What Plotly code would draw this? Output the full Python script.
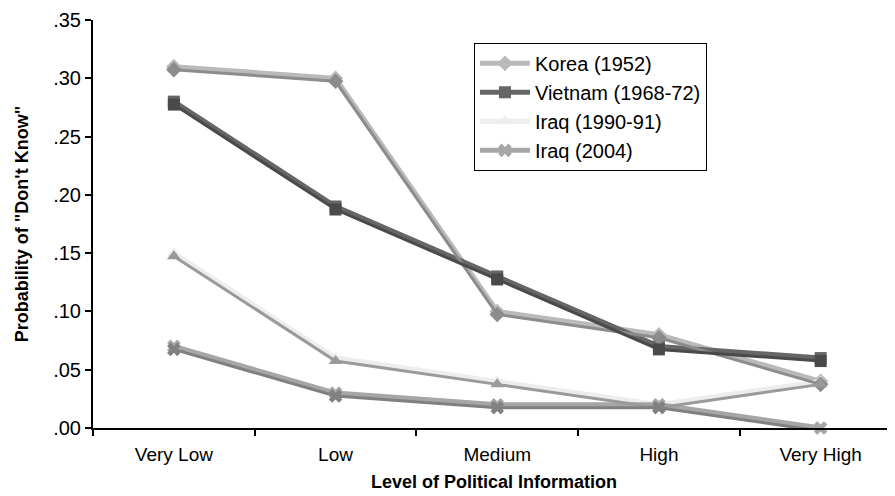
import plotly.graph_objects as go

levels = ["Very Low", "Low", "Medium", "High", "Very High"]
korea_1952 = [0.31, 0.30, 0.10, 0.08, 0.04]
vietnam_1968_72 = [0.28, 0.19, 0.13, 0.07, 0.06]
iraq_1990_91 = [0.15, 0.06, 0.04, 0.02, 0.04]
iraq_2004 = [0.07, 0.03, 0.02, 0.02, 0.00]

y_ticks = [0, 0.05, 0.10, 0.15, 0.20, 0.25, 0.30, 0.35]
y_tick_labels = [".00", ".05", ".10", ".15", ".20", ".25", ".30", ".35"]

series = [
    ("Korea (1952)", korea_1952, "#bababa", "#8c8c8c", "diamond"),
    ("Vietnam (1968-72)", vietnam_1968_72, "#666666", "#4a4a4a", "square"),
    ("Iraq (1990-91)", iraq_1990_91, "#ededed", "#9a9a9a", "triangle-up"),
    ("Iraq (2004)", iraq_2004, "#a6a6a6", "#808080", "x"),
]

fig = go.Figure()

# drop shadows, drawn on a shifted copy of the y axis
for name, vals, col, shadow, sym in series:
    fig.add_trace(go.Scatter(
        x=levels, y=vals, yaxis="y2", mode="lines+markers",
        line=dict(color=shadow, width=3),
        marker=dict(symbol=sym, size=12, color=shadow, line=dict(width=0)),
        showlegend=False, hoverinfo="skip", cliponaxis=False,
    ))

for name, vals, col, shadow, sym in series:
    fig.add_trace(go.Scatter(
        x=levels, y=vals, name=name, mode="lines+markers",
        line=dict(color=col, width=5),
        marker=dict(symbol=sym, size=12, color=col, line=dict(width=0)),
        cliponaxis=False,
    ))

shift = 2 * 0.35 / 408

fig.update_layout(
    width=895, height=496,
    margin=dict(l=85, r=8, t=12, b=76),
    plot_bgcolor="white", paper_bgcolor="white",
    font=dict(family="Liberation Sans, Arial, sans-serif", size=19, color="black"),
    xaxis=dict(
        type="category", range=[-0.5, 4.46], tickson="boundaries",
        ticks="outside", ticklen=6, tickwidth=2, tickcolor="black",
        showline=True, linecolor="black", linewidth=2, showgrid=False,
        automargin=False, tickfont=dict(size=19), ticklabelstandoff=8,
        title=dict(text="<b>Level of Political Information</b>",
                   font=dict(size=18), standoff=12),
    ),
    yaxis=dict(
        range=[0, 0.35], tickvals=y_ticks, ticktext=y_tick_labels,
        ticks="outside", ticklen=6, tickwidth=2, tickcolor="black",
        showline=True, linecolor="black", linewidth=2, showgrid=False,
        zeroline=False, automargin=False, tickfont=dict(size=20),
        title=dict(text="<b>Probability of \"Don't Know\"</b>",
                   font=dict(size=18), standoff=20),
    ),
    yaxis2=dict(range=[shift * 1.5, 0.35 + shift * 1.5], overlaying="y", visible=False),
    legend=dict(
        x=0.475, y=0.944, xanchor="left", yanchor="top",
        bordercolor="black", borderwidth=1, bgcolor="white",
        font=dict(size=20), tracegroupgap=0, itemwidth=50,
    ),
)

fig.write_html("out.html")
